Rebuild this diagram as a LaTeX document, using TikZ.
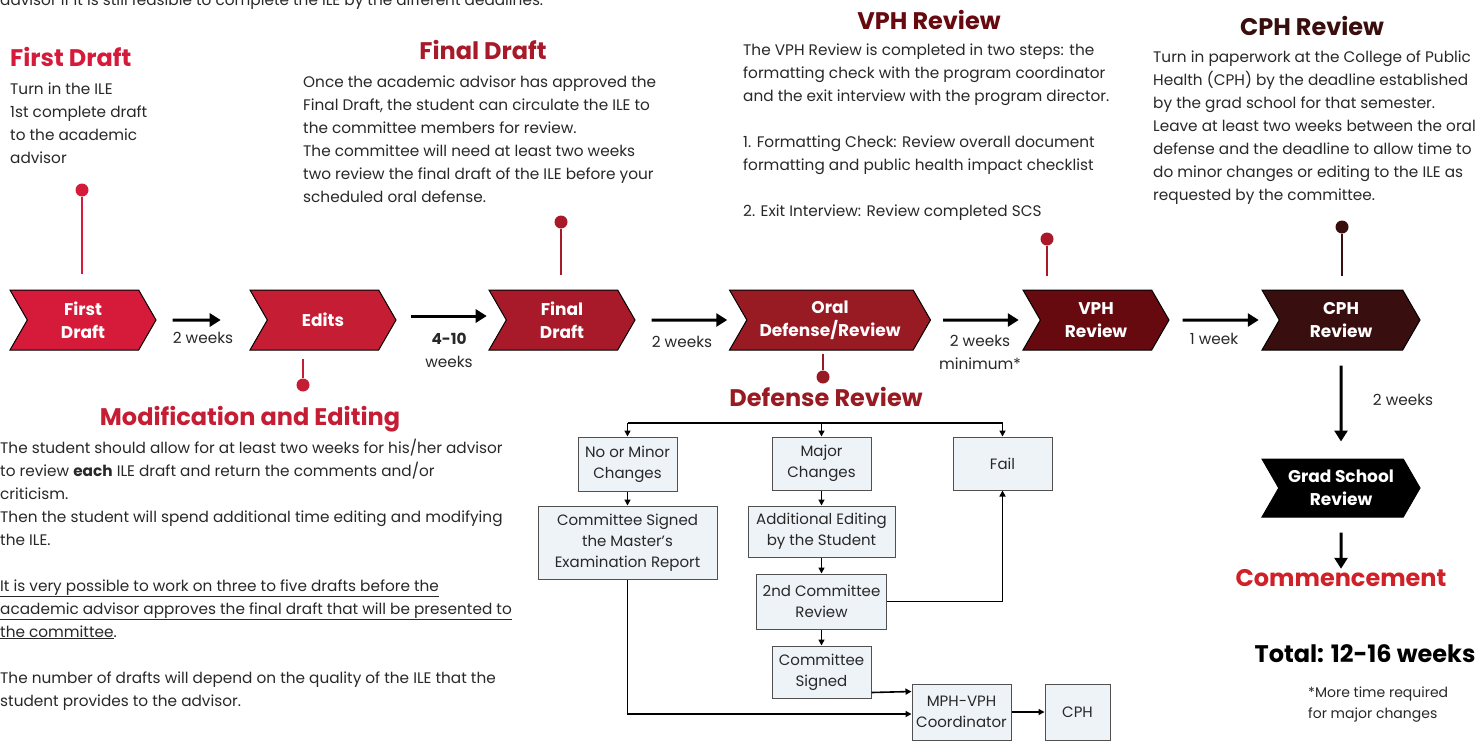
\documentclass[tikz,border=0pt]{standalone}
\usepackage{fontspec}
\setmainfont{Poppins}
\usetikzlibrary{arrows.meta,shapes.symbols}

\definecolor{redA}{RGB}{214,26,58}
\definecolor{redB}{RGB}{196,29,52}
\definecolor{redC}{RGB}{168,26,42}
\definecolor{redD}{RGB}{152,26,34}
\definecolor{redE}{RGB}{102,10,16}
\definecolor{redF}{RGB}{56,14,14}
\definecolor{comm}{RGB}{208,32,40}
\definecolor{boxfill}{RGB}{238,243,248}
\definecolor{boxline}{RGB}{80,80,80}
\definecolor{ink}{RGB}{40,40,40}

\newcommand{\txtfont}{\fontsize{15.3}{23}\selectfont}
\newcommand{\ttlfont}{\fontsize{24}{28}\selectfont\bfseries}

\tikzset{
  stage/.style={signal, signal to=east, signal from=west, signal pointer angle=120,
    draw=black, line width=1pt, fill=#1, text=white, minimum height=60pt,
    minimum width=146pt, font=\fontsize{17}{23}\selectfont\bfseries,
    align=center, inner sep=0pt},
  ttl/.style={font=\ttlfont, text=#1, anchor=base, inner sep=0pt},
  para/.style={font=\txtfont, text=ink, anchor=base west, align=left, inner sep=0pt},
  lbl/.style={font=\txtfont, text=ink, anchor=base, align=center, inner sep=0pt},
  bigarrow/.style={line width=3pt, -{Triangle[length=11pt,width=13pt]}},
  pindot/.style={circle, fill=#1, minimum size=13pt, inner sep=0pt},
  pinline/.style={draw=#1, line width=2.8pt},
  dbox/.style={draw=boxline, fill=boxfill, line width=1pt, align=center,
    font=\fontsize{15}{21}\selectfont, text=ink, inner sep=0pt},
  thinarrow/.style={line width=1.6pt, -{Triangle[length=6pt,width=6pt]}}
}

\begin{document}
\begin{tikzpicture}[x=1pt,y=-1pt]
  \useasboundingbox (0,0) rectangle (1477,740);
  \fill[white] (0,0) rectangle (1477,740);

  % texts above and below the timeline (anchored at the last baseline)
  \node[para] (intro) at (0,5) {advisor if it is still feasible to complete the ILE by the different deadlines.};

  \node[ttl=redA, anchor=base west] (t1) at (10,66) {First Draft};
  \node[para] (d1) at (10,163) {Turn in the ILE\\1st complete draft\\to the academic\\advisor};

  \node[ttl=redC] (t3) at (483,59) {Final Draft};
  \node[para] (d3) at (303,202) {Once the academic advisor has approved the\\
    Final Draft, the student can circulate the ILE to\\
    the committee members for review.\\
    The committee will need at least two weeks\\
    two review the final draft of the ILE before your\\
    scheduled oral defense.};

  \node[ttl=redE] (t5) at (929,29) {VPH Review};
  \node[para] (d5) at (743,216) {The VPH Review is completed in two steps: the\\
    formatting check with the program coordinator\\
    and the exit interview with the program director.\\[23pt]
    1. Formatting Check: Review overall document\\
    formatting and public health impact checklist\\[23pt]
    2. Exit Interview: Review completed SCS};

  \node[ttl=redF] (t6) at (1312,35) {CPH Review};
  \node[para] (d6) at (1153,200) {Turn in paperwork at the College of Public\\
    Health (CPH) by the deadline established\\
    by the grad school for that semester.\\
    Leave at least two weeks between the oral\\
    defense and the deadline to allow time to\\
    do minor changes or editing to the ILE as\\
    requested by the committee.};

  \node[ttl=redB] (t2) at (250,425) {Modification and Editing};
  \node[para] (d2) at (0,706) {The student should allow for at least two weeks for his/her advisor\\
    to review \textbf{each} ILE draft and return the comments and/or\\
    criticism.\\
    Then the student will spend additional time editing and modifying\\
    the ILE.\\[23pt]
    \underline{It is very possible to work on three to five drafts before the}\\
    \underline{academic advisor approves the final draft that will be presented to}\\
    \underline{the committee}.\\[23pt]
    The number of drafts will depend on the quality of the ILE that the\\
    student provides to the advisor.};

  % timeline
  \node[stage=redA] (fd) at (83,320) {First\\Draft};
  \node[stage=redB] (ed) at (323,320) {Edits};
  \node[stage=redC] (fin) at (562,320) {Final\\Draft};
  \node[stage=redD, minimum width=201pt] (oral) at (830,320) {Oral\\Defense/Review};
  \node[stage=redE] (vph) at (1096,320) {VPH\\Review};
  \node[stage=redF, minimum width=158pt] (cph) at (1341,320) {CPH\\Review};
  \node[stage=black, minimum width=158pt, minimum height=58pt] (grad) at (1341,488) {Grad School\\Review};

  \draw[bigarrow, shorten <=16pt, shorten >=46pt] (fd) -- (ed);
  \draw[bigarrow, shorten <=14pt, shorten >=19pt] ([yshift=4pt]ed.east) -- ([yshift=4pt]fin.west);
  \draw[bigarrow, shorten <=16pt, shorten >=19pt] (fin) -- (oral);
  \draw[bigarrow, shorten <=12pt, shorten >=21pt] (oral) -- (vph);
  \draw[bigarrow, shorten <=13pt, shorten >=20pt] (vph) -- (cph);
  \draw[bigarrow, shorten <=15pt, shorten >=17pt] (cph) -- (grad);

  \node[lbl] (w1) at (203,343) {2 weeks};
  \node[lbl] (w2) at (449,367) {\textbf{4-10}\\weeks};
  \node[lbl] (w3) at (682,347) {2 weeks};
  \node[lbl] (w4) at (980,369) {2 weeks\\minimum*};
  \node[lbl] (w5) at (1214,344) {1 week};
  \node[lbl] (w6) at (1403,405) {2 weeks};

  % pins
  \node[pindot=redA] (p1) at (82,190) {};
  \node[pindot=redB] (p2) at (303,385) {};
  \node[pindot=redC] (p3) at (561,222) {};
  \node[pindot=redD] (p4) at (823,377) {};
  \node[pindot=redC] (p5) at (1047,239) {};
  \node[pindot=redF] (p6) at (1342,227) {};
  \draw[pinline=redA, shorten >=16pt] (p1) -- (p1 |- fd.north);
  \draw[pinline=redB, shorten >=8pt] (p2) -- (p2 |- ed.south);
  \draw[pinline=redC, shorten >=15pt] (p3) -- (p3 |- fin.north);
  \draw[pinline=redD, shorten >=3pt] (p4) -- (p4 |- oral.south);
  \draw[pinline=redC, shorten >=14pt] (p5) -- (p5 |- vph.north);
  \draw[pinline=redF, shorten >=14pt] (p6) -- (p6 |- cph.north);

  % end of the line
  \node[ttl=comm] (cm) at (1341,586) {Commencement};
  \draw[bigarrow, shorten <=15pt] (grad) -- (cm);
  \node[ttl=black] (tot) at (1365,662) {Total: 12-16 weeks};
  \node[para, font=\fontsize{14}{21}\selectfont] (note) at (1308,718) {*More time required\\for major changes};

  % defense review
  \node[ttl=redD] (t4) at (826,406) {Defense Review};
  \node[dbox, minimum width=99pt, minimum height=54pt] (nm) at (627.5,464) {No or Minor\\Changes};
  \node[dbox, minimum width=99pt, minimum height=53pt] (mj) at (821.5,463.5) {Major\\Changes};
  \node[dbox, minimum width=99pt, minimum height=53pt] (fl) at (1002.5,463.5) {Fail};
  \node[dbox, minimum width=179pt, minimum height=73pt] (ms) at (627.5,542.5) {Committee Signed\\the Master’s\\Examination Report};
  \node[dbox, minimum width=147pt, minimum height=51pt] (ad) at (821.5,531.5) {Additional Editing\\by the Student};
  \node[dbox, minimum width=130pt, minimum height=55pt] (sc) at (821.5,601.5) {2nd Committee\\Review};
  \node[dbox, minimum width=99pt, minimum height=52pt] (cs) at (821.5,672) {Committee\\Signed};
  \node[dbox, minimum width=99pt, minimum height=56pt] (mv) at (961.5,712) {MPH-VPH\\Coordinator};
  \node[dbox, minimum width=65pt, minimum height=56pt] (cp) at (1077.5,712) {CPH};

  \coordinate (bus) at (821.5,423);
  \draw[line width=1.6pt] (nm |- bus) -- (fl |- bus);
  \draw[thinarrow] (nm |- bus) -- (nm);
  \draw[thinarrow] (bus) -- (mj);
  \draw[thinarrow] (fl |- bus) -- (fl);
  \draw[thinarrow] (nm) -- (ms);
  \draw[thinarrow] (mj) -- (ad);
  \draw[thinarrow] (ad) -- (sc);
  \draw[thinarrow] (sc) -- (cs);
  \draw[thinarrow] (sc.east) -| (fl.south);
  \draw[thinarrow] ([yshift=6pt]cs.south east) -- ([yshift=-8pt]mv.north west);
  \draw[thinarrow] (ms.south) |- ([yshift=-2pt]mv.west);
  \draw[thinarrow] (mv) -- (cp);
\end{tikzpicture}
\end{document}
